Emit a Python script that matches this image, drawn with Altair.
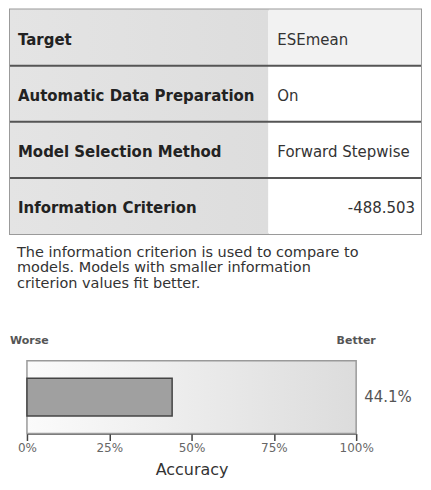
import altair as alt
import pandas as pd

# ---- data ----
row_labels = ["Target", "Automatic Data Preparation", "Model Selection Method", "Information Criterion"]
row_values = ["ESEmean", "On", "Forward Stepwise", "-488.503"]
note_lines = [
    "The information criterion is used to compare to",
    "models. Models with smaller information",
    "criterion values fit better.",
]
accuracy_name = ["Accuracy"]
accuracy_value = [44.1]
axis_ticks = [0, 25, 50, 75, 100]
scale_end_labels = ["Worse", "Better"]
scale_end_pos = [0, 100]

FONT = "DejaVu Sans"


def is_number(s):
    try:
        float(s)
        return True
    except ValueError:
        return False


def lin_grad(c0, c1):
    return alt.LinearGradient(
        gradient="linear",
        x1=0, y1=0, x2=1, y2=0,
        stops=[alt.GradientStop(offset=0, color=c0), alt.GradientStop(offset=1, color=c1)],
    )


# ---- table ----
tbl = pd.DataFrame({"label": row_labels, "value": row_values, "order": list(range(len(row_labels)))})
tbl["numeric"] = tbl["value"].apply(is_number)

TW, LW, TH = 412, 259, 225


def yenc(**kw):
    return alt.Y("label:N", sort=row_labels, axis=None,
                 scale=alt.Scale(paddingInner=0, paddingOuter=0), **kw)


tbase = alt.Chart(tbl)
left_bg = tbase.mark_rect(fill=lin_grad("#e4e4e4", "#dddddd")).encode(
    y=yenc(), x=alt.value(0), x2=alt.value(LW))
right_bg = tbase.mark_rect().encode(
    y=yenc(), x=alt.value(LW), x2=alt.value(TW),
    fill=alt.condition("datum.order == 0", alt.value("#f2f2f2"), alt.value("#ffffff")))
seps = tbase.transform_filter("datum.order > 0").mark_rule(color="#555555", strokeWidth=2).encode(
    y=yenc(bandPosition=0))
lab_txt = tbase.mark_text(align="left", baseline="middle", dy=2, font=FONT, fontSize=15,
                          fontWeight="bold", color="#222").encode(
    y=yenc(), x=alt.value(8), text="label:N")
val_txt = tbase.transform_filter("!datum.numeric").mark_text(
    align="left", baseline="middle", dy=2, font=FONT, fontSize=15, color="#333").encode(
    y=yenc(), x=alt.value(LW + 9), text="value:N")
num_txt = tbase.transform_filter("datum.numeric").mark_text(
    align="right", baseline="middle", dy=2, font=FONT, fontSize=15, color="#333").encode(
    y=yenc(), x=alt.value(TW - 6), text="value:N")

table = alt.layer(left_bg, right_bg, seps, lab_txt, val_txt, num_txt).properties(
    width=TW, height=TH, view=alt.ViewBackground(stroke="#9a9a9a", strokeWidth=2))

# ---- note ----
note_df = pd.DataFrame({"line": note_lines, "i": list(range(len(note_lines)))})
note = alt.Chart(note_df).mark_text(
    align="left", baseline="middle", font=FONT, fontSize=14.5, color="#333").encode(
    x=alt.value(7),
    y=alt.Y("i:O", axis=None, scale=alt.Scale(range=[19, 50], padding=0)),
    text="line:N").properties(
    width=TW, height=127, view=alt.ViewBackground(stroke="transparent"))

# ---- bullet ----
BW, BH = 347, 73
xscale = alt.Scale(domain=[axis_ticks[0], axis_ticks[-1]], range=[17, BW], nice=False)
xaxis = alt.Axis(values=axis_ticks, labelExpr="datum.value + '%'", tickSize=7, labelFlush=False,
                 tickColor="#444", domainColor="#444", domainWidth=1.5, tickWidth=1.5,
                 labelFont=FONT, labelFontSize=12, labelColor="#666", labelPadding=2,
                 titleFont=FONT, titleFontSize=16, titleFontWeight="normal",
                 titleColor="#333", titlePadding=8, grid=False)


def X(field):
    return alt.X(field, scale=xscale, axis=xaxis, title="Accuracy")


box_df = pd.DataFrame({"start": [axis_ticks[0]], "end": [axis_ticks[-1]]})
box = alt.Chart(box_df).mark_rect(fill=lin_grad("#fbfbfb", "#dcdcdc"), stroke="#9a9a9a",
                                  strokeWidth=1.5).encode(x=X("start:Q"), x2="end:Q")

acc_df = pd.DataFrame({"metric": accuracy_name, "value": accuracy_value,
                       "end": [axis_ticks[-1]]})
ybar = alt.Y("metric:N", axis=None, scale=alt.Scale(paddingInner=0, paddingOuter=0.46))
bar = alt.Chart(acc_df).mark_bar(color="#a0a0a0", stroke="#444", strokeWidth=1.5).encode(
    x=X("value:Q"), y=ybar)
acc_lbl = alt.Chart(acc_df).transform_calculate(
    lbl="format(datum.value, '.1f') + '%'").mark_text(
    align="left", baseline="middle", dx=8, font=FONT, fontSize=15, color="#555").encode(
    x=X("end:Q"), y=ybar, text="lbl:N")

ends_df = pd.DataFrame({"lbl": scale_end_labels, "pos": scale_end_pos,
                        "first": [True, False]})
end_style = dict(baseline="middle", font=FONT, fontSize=11, fontWeight="bold", color="#555")
end_lo = alt.Chart(ends_df).transform_filter("datum.first").mark_text(
    align="left", dx=-17, **end_style).encode(x=X("pos:Q"), y=alt.value(-20), text="lbl:N")
end_hi = alt.Chart(ends_df).transform_filter("!datum.first").mark_text(
    align="center", **end_style).encode(x=X("pos:Q"), y=alt.value(-20), text="lbl:N")

bullet = alt.layer(box, bar, acc_lbl, end_lo, end_hi).properties(
    width=BW, height=BH, view=alt.ViewBackground(stroke="transparent"))

chart = alt.vconcat(table, note, bullet, spacing=0, bounds="flush").properties(
    padding=0).configure(font=FONT).configure_view(stroke="transparent")

chart.save("out.html", embed_options={"renderer": "svg", "actions": False})
